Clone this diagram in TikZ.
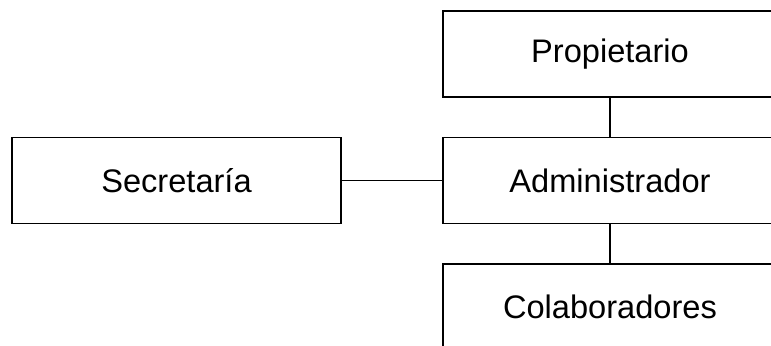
\documentclass[tikz,border=0pt]{standalone}
\usepackage{fontspec}
\setmainfont{Liberation Sans}
\usetikzlibrary{positioning}

\begin{document}
\begin{tikzpicture}
        [
          x=0.5pt, y=-0.5pt,
          box/.style={draw=black, line width=0.9pt, rectangle,
                      minimum width=167pt, minimum height=43pt,
                      inner sep=0pt, font=\fontsize{16.3}{19}\selectfont},
          link/.style={draw=black, line width=0.9pt}
        ]
        \useasboundingbox (0,0) rectangle (771,345);
        % right column
        \node [box] (prop) at (610,54) {Propietario};
        \node [box] (admin) at (610,180.5) {Administrador};
        \node [box] (colab) at (610,307) {Colaboradores};
        % left box
        \node [box, minimum width=164.5pt] (secr) at (176.5,180.5) {Secretaría};
        % links
        \draw [link] (prop) -- (admin);
        \draw [link] (admin) -- (colab);
        \draw [link] (secr) -- (admin);
      \end{tikzpicture}
\end{document}
